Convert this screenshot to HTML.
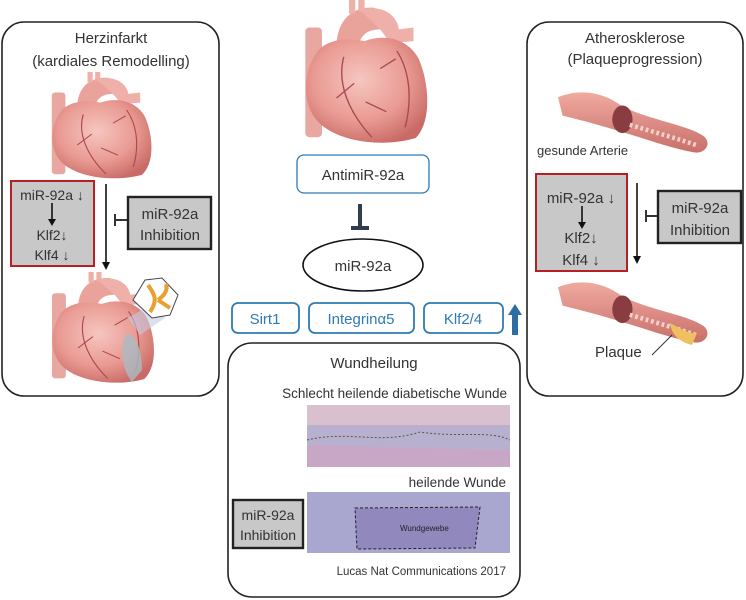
<!DOCTYPE html>
<html><head><meta charset="utf-8"><style>
html,body{margin:0;padding:0;background:#fff;}
svg{display:block;font-family:"Liberation Sans",sans-serif;}
</style></head><body>
<svg width="746" height="600" viewBox="0 0 746 600" xmlns="http://www.w3.org/2000/svg">
<defs>
<radialGradient id="hg" cx="0.45" cy="0.4" r="0.65">
<stop offset="0" stop-color="#f6c6c0"/><stop offset="0.6" stop-color="#e99a92"/><stop offset="1" stop-color="#c96a66"/>
</radialGradient>
<linearGradient id="ag" x1="0" y1="0" x2="0" y2="1">
<stop offset="0" stop-color="#f0aaa0"/><stop offset="1" stop-color="#c8706a"/>
</linearGradient>
<g id="heart">
<rect x="8" y="28" width="16" height="112" rx="4" fill="#e8a7a0"/>
<path d="M38 55 C36 22 52 6 75 8 L80 30 C64 30 58 40 58 58 Z" fill="#e9a39b"/>
<path d="M60 10 C80 4 96 14 98 30 L112 28 L112 42 L90 44 L80 30 Z" fill="#eeb0a8"/>
<rect x="50" y="0" width="6" height="14" fill="#eeb0a8"/><rect x="59" y="0" width="6" height="12" fill="#eeb0a8"/>
<path d="M20 52 C4 75 4 110 24 128 C45 146 85 150 114 141 C130 124 127 84 117 60 C107 40 85 34 65 42 C45 37 28 42 20 52 Z" fill="url(#hg)"/>
<path d="M45 58 C38 85 50 115 72 140 M55 85 L38 100 M96 52 C110 75 110 105 104 130 M66 104 L86 114 M80 70 L95 60" stroke="#a94850" stroke-width="1.3" fill="none"/>
</g>
<g id="artery">
<path d="M0 10 C25 0 50 5 70 20 C100 35 140 40 158 52 C168 60 160 72 148 70 C120 65 95 55 70 48 C45 40 25 35 5 30 Z" fill="url(#ag)"/>
<ellipse cx="70" cy="34" rx="11" ry="15" fill="#8a3d40"/>
<path d="M78 40 C105 48 130 55 150 62" stroke="#f5d0cc" stroke-width="5" stroke-dasharray="3 3" fill="none"/>
</g>
</defs>

<!-- Left box -->
<rect x="2" y="22" width="217" height="374" rx="22" fill="#fff" stroke="#222" stroke-width="1.6"/>
<text x="111" y="43" font-size="15" text-anchor="middle" fill="#333">Herzinfarkt</text>
<text x="111" y="66" font-size="15" text-anchor="middle" fill="#333">(kardiales Remodelling)</text>
<use href="#heart" transform="translate(45,72) scale(0.85,0.73)"/>
<rect x="11" y="181" width="83" height="85" fill="#c8c8c9" stroke="#b52025" stroke-width="2"/>
<text x="52" y="200" font-size="14" text-anchor="middle" fill="#333">miR-92a ↓</text>
<line x1="52" y1="203" x2="52" y2="221" stroke="#111" stroke-width="1.6"/><path d="M48 219 L52 226 L56 219 Z" fill="#111"/>
<text x="52" y="240" font-size="14" text-anchor="middle" fill="#333">Klf2↓</text>
<text x="52" y="260" font-size="14" text-anchor="middle" fill="#333">Klf4 ↓</text>
<line x1="106" y1="184" x2="106" y2="266" stroke="#111" stroke-width="1.6"/><path d="M102 262 L106 270 L110 262 Z" fill="#111"/>
<line x1="115" y1="220" x2="128" y2="220" stroke="#333" stroke-width="2"/><line x1="115" y1="214" x2="115" y2="226" stroke="#333" stroke-width="2"/>
<rect x="128" y="197" width="83" height="52" fill="#c8c8c9" stroke="#222" stroke-width="2.4"/>
<text x="170" y="219" font-size="15" text-anchor="middle" fill="#333">miR-92a</text>
<text x="170" y="240" font-size="15" text-anchor="middle" fill="#333">Inhibition</text>
<use href="#heart" transform="translate(45,272) scale(0.87,0.76)"/>
<path d="M125 335 C135 330 142 350 142 370 L132 382 C122 370 120 350 125 335Z" fill="#a9bcc4" opacity="0.8"/>
<path d="M128 318 L140 335 L165 318 L150 305Z" fill="#c3cbe0" opacity="0.6"/>
<polygon points="145,280 162,278 178,295 170,315 152,318 133,300" fill="#fff" stroke="#445" stroke-width="1"/>
<path d="M148 285 C155 295 158 300 150 312 M158 300 C165 295 168 290 166 284 M158 300 L170 308" stroke="#e8a030" stroke-width="4" fill="none"/>

<!-- Center heart -->
<use href="#heart" transform="translate(297,0) scale(1.04,0.98)"/>
<rect x="297" y="155" width="132" height="38" rx="7" fill="#fff" stroke="#2e7bb5" stroke-width="1.3"/>
<text x="363" y="180" font-size="15" text-anchor="middle" fill="#333">AntimiR-92a</text>
<line x1="360" y1="204" x2="360" y2="228" stroke="#2f3d4f" stroke-width="4"/>
<line x1="351" y1="228" x2="369" y2="228" stroke="#2f3d4f" stroke-width="4"/>
<ellipse cx="363" cy="265" rx="60" ry="26" fill="#fff" stroke="#111" stroke-width="1.6"/>
<text x="363" y="271" font-size="15" text-anchor="middle" fill="#333">miR-92a</text>

<!-- blue boxes -->
<rect x="232" y="303" width="67" height="30" rx="6" fill="#fff" stroke="#2e7bb5" stroke-width="1.8"/>
<text x="265" y="324" font-size="15" text-anchor="middle" fill="#2e7bb5">Sirt1</text>
<rect x="309" y="303" width="105" height="30" rx="6" fill="#fff" stroke="#2e7bb5" stroke-width="1.8"/>
<text x="361" y="324" font-size="15" text-anchor="middle" fill="#2e7bb5">Integrinα5</text>
<rect x="424" y="303" width="79" height="30" rx="6" fill="#fff" stroke="#2e7bb5" stroke-width="1.8"/>
<text x="463" y="324" font-size="15" text-anchor="middle" fill="#2e7bb5">Klf2/4</text>
<rect x="512" y="313" width="6" height="22" fill="#2e6da4"/><path d="M508 315 L515 304 L522 315 Z" fill="#2e6da4"/>

<!-- Wundheilung -->
<rect x="228" y="343" width="292" height="254" rx="24" fill="#fff" stroke="#222" stroke-width="1.6"/>
<text x="374" y="368" font-size="15" text-anchor="middle" fill="#333">Wundheilung</text>
<text x="507" y="398" font-size="13.5" text-anchor="end" fill="#333">Schlecht heilende diabetische Wunde</text>
<rect x="307" y="405" width="203" height="62" fill="#b7b1cf"/>
<rect x="307" y="405" width="203" height="20" fill="#d9c0cf"/>
<path d="M307 440 C350 430 380 445 420 432 C460 438 490 430 510 440" stroke="#554" stroke-dasharray="2 2" fill="none"/>
<path d="M307 445 L510 450 L510 467 L307 467Z" fill="#c8a7c6"/>
<text x="506" y="487" font-size="13.5" text-anchor="end" fill="#333">heilende Wunde</text>
<rect x="307" y="492" width="203" height="61" fill="#a9a7cf"/>
<path d="M355 508 L480 507 L475 548 L357 549 Z" fill="#9189be" stroke="#222" stroke-dasharray="3 2"/>
<text x="400" y="531" font-size="8" fill="#222">Wundgewebe</text>
<rect x="233" y="500" width="70" height="48" fill="#c8c8c9" stroke="#222" stroke-width="2.4"/>
<text x="268" y="520" font-size="14" text-anchor="middle" fill="#333">miR-92a</text>
<text x="268" y="540" font-size="14" text-anchor="middle" fill="#333">Inhibition</text>
<text x="506" y="575" font-size="11.5" text-anchor="end" fill="#333">Lucas Nat Communications 2017</text>

<!-- Right box -->
<rect x="527" y="22" width="216" height="374" rx="22" fill="#fff" stroke="#222" stroke-width="1.6"/>
<text x="635" y="43" font-size="15" text-anchor="middle" fill="#333">Atherosklerose</text>
<text x="635" y="64" font-size="15" text-anchor="middle" fill="#333">(Plaqueprogression)</text>
<use href="#artery" transform="translate(558,88) scale(0.92,0.92)"/>
<text x="537" y="155" font-size="13" fill="#333">gesunde Arterie</text>
<rect x="536" y="174" width="91" height="97" fill="#c8c8c9" stroke="#b52025" stroke-width="2"/>
<text x="581" y="203" font-size="15" text-anchor="middle" fill="#333">miR-92a ↓</text>
<line x1="582" y1="206" x2="582" y2="224" stroke="#111" stroke-width="1.6"/><path d="M578 222 L582 229 L586 222 Z" fill="#111"/>
<text x="581" y="243" font-size="15" text-anchor="middle" fill="#333">Klf2↓</text>
<text x="581" y="265" font-size="15" text-anchor="middle" fill="#333">Klf4 ↓</text>
<line x1="637" y1="183" x2="637" y2="258" stroke="#111" stroke-width="1.6"/><path d="M633 256 L637 264 L641 256 Z" fill="#111"/>
<line x1="646" y1="216" x2="658" y2="216" stroke="#333" stroke-width="2"/><line x1="646" y1="210" x2="646" y2="222" stroke="#333" stroke-width="2"/>
<rect x="658" y="191" width="83" height="52" fill="#c8c8c9" stroke="#222" stroke-width="2.4"/>
<text x="700" y="213" font-size="15" text-anchor="middle" fill="#333">miR-92a</text>
<text x="700" y="235" font-size="15" text-anchor="middle" fill="#333">Inhibition</text>
<use href="#artery" transform="translate(558,278) scale(0.92,0.92)"/>
<path d="M670 323 C680 328 690 335 697 333 L692 345 C680 342 672 336 670 323Z" fill="#f0c060"/>
<text x="595" y="357" font-size="15" fill="#333">Plaque</text>
<line x1="652" y1="355" x2="672" y2="335" stroke="#333" stroke-width="1"/>
</svg>
</body></html>
